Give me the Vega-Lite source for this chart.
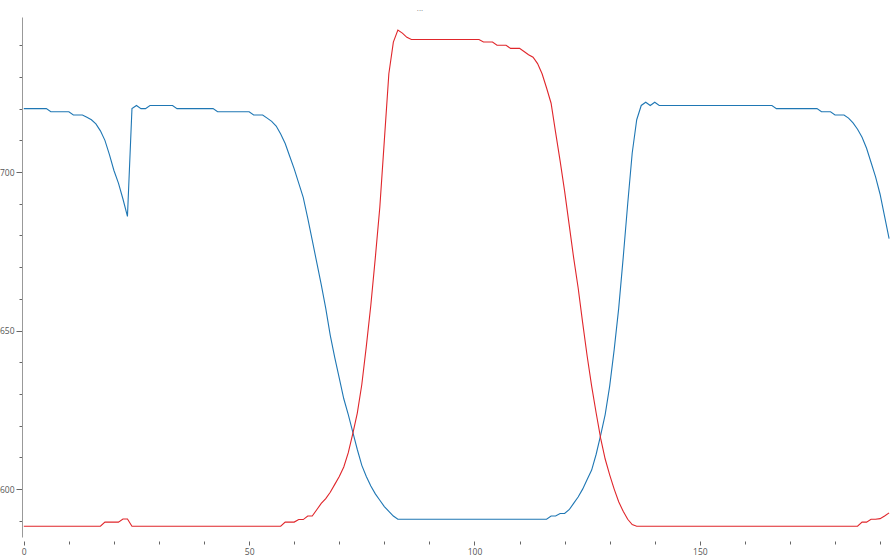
{
  "$schema": "https://vega.github.io/schema/vega-lite/v6.json",
  "autosize": "none",
  "width": 868,
  "height": 520,
  "padding": {"left": 22, "top": 17, "right": 1, "bottom": 19},
  "background": "white",
  "title": {"text": "...", "fontSize": 8, "color": "#888888", "font": "Open Sans", "fontWeight": "normal", "offset": 4, "dx": -36},
  "config": {"view": {"stroke": null}},
  "data": {"values": [
    {"t":0,"blue":720,"red":588.3},{"t":1,"blue":720,"red":588.3},{"t":2,"blue":720,"red":588.3},{"t":3,"blue":720,"red":588.3},{"t":4,"blue":720,"red":588.3},
    {"t":5,"blue":720,"red":588.3},{"t":6,"blue":719,"red":588.3},{"t":7,"blue":719,"red":588.3},{"t":8,"blue":719,"red":588.3},{"t":9,"blue":719,"red":588.3},
    {"t":10,"blue":719,"red":588.3},{"t":11,"blue":718,"red":588.3},{"t":12,"blue":718,"red":588.3},{"t":13,"blue":718,"red":588.3},{"t":14,"blue":717.3,"red":588.3},
    {"t":15,"blue":716.5,"red":588.3},{"t":16,"blue":715.2,"red":588.3},{"t":17,"blue":713,"red":588.3},{"t":18,"blue":710,"red":589.6},{"t":19,"blue":705.5,"red":589.6},
    {"t":20,"blue":700.5,"red":589.6},{"t":21,"blue":696.5,"red":589.6},{"t":22,"blue":691.5,"red":590.6},{"t":23,"blue":686,"red":590.6},{"t":24,"blue":720,"red":588.3},
    {"t":25,"blue":721,"red":588.3},{"t":26,"blue":720,"red":588.3},{"t":27,"blue":720,"red":588.3},{"t":28,"blue":721,"red":588.3},{"t":29,"blue":721,"red":588.3},
    {"t":30,"blue":721,"red":588.3},{"t":31,"blue":721,"red":588.3},{"t":32,"blue":721,"red":588.3},{"t":33,"blue":721,"red":588.3},{"t":34,"blue":720,"red":588.3},
    {"t":35,"blue":720,"red":588.3},{"t":36,"blue":720,"red":588.3},{"t":37,"blue":720,"red":588.3},{"t":38,"blue":720,"red":588.3},{"t":39,"blue":720,"red":588.3},
    {"t":40,"blue":720,"red":588.3},{"t":41,"blue":720,"red":588.3},{"t":42,"blue":720,"red":588.3},{"t":43,"blue":719,"red":588.3},{"t":44,"blue":719,"red":588.3},
    {"t":45,"blue":719,"red":588.3},{"t":46,"blue":719,"red":588.3},{"t":47,"blue":719,"red":588.3},{"t":48,"blue":719,"red":588.3},{"t":49,"blue":719,"red":588.3},
    {"t":50,"blue":719,"red":588.3},{"t":51,"blue":718,"red":588.3},{"t":52,"blue":718,"red":588.3},{"t":53,"blue":718,"red":588.3},{"t":54,"blue":717,"red":588.3},
    {"t":55,"blue":716,"red":588.3},{"t":56,"blue":714.5,"red":588.3},{"t":57,"blue":712,"red":588.3},{"t":58,"blue":709,"red":589.6},{"t":59,"blue":705,"red":589.6},
    {"t":60,"blue":701,"red":589.6},{"t":61,"blue":696.5,"red":590.4},{"t":62,"blue":692,"red":590.4},{"t":63,"blue":685.5,"red":591.5},{"t":64,"blue":678.5,"red":591.5},
    {"t":65,"blue":671.5,"red":593.5},{"t":66,"blue":664.5,"red":595.5},{"t":67,"blue":657,"red":597},{"t":68,"blue":648.5,"red":599},{"t":69,"blue":641.5,"red":601.5},
    {"t":70,"blue":635,"red":604},{"t":71,"blue":628.5,"red":607},{"t":72,"blue":623.5,"red":611.5},{"t":73,"blue":618,"red":617.5},{"t":74,"blue":612.5,"red":624},
    {"t":75,"blue":607.5,"red":633},{"t":76,"blue":604,"red":645},{"t":77,"blue":601,"red":658},{"t":78,"blue":598.5,"red":673},{"t":79,"blue":596.5,"red":689},
    {"t":80,"blue":594.5,"red":710},{"t":81,"blue":593,"red":731},{"t":82,"blue":591.5,"red":741},{"t":83,"blue":590.5,"red":744.8},{"t":84,"blue":590.5,"red":743.8},
    {"t":85,"blue":590.5,"red":742.5},{"t":86,"blue":590.5,"red":741.8},{"t":87,"blue":590.5,"red":741.8},{"t":88,"blue":590.5,"red":741.8},{"t":89,"blue":590.5,"red":741.8},
    {"t":90,"blue":590.5,"red":741.8},{"t":91,"blue":590.5,"red":741.8},{"t":92,"blue":590.5,"red":741.8},{"t":93,"blue":590.5,"red":741.8},{"t":94,"blue":590.5,"red":741.8},
    {"t":95,"blue":590.5,"red":741.8},{"t":96,"blue":590.5,"red":741.8},{"t":97,"blue":590.5,"red":741.8},{"t":98,"blue":590.5,"red":741.8},{"t":99,"blue":590.5,"red":741.8},
    {"t":100,"blue":590.5,"red":741.8},{"t":101,"blue":590.5,"red":741.8},{"t":102,"blue":590.5,"red":741},{"t":103,"blue":590.5,"red":741},{"t":104,"blue":590.5,"red":741},
    {"t":105,"blue":590.5,"red":740},{"t":106,"blue":590.5,"red":740},{"t":107,"blue":590.5,"red":740},{"t":108,"blue":590.5,"red":739},{"t":109,"blue":590.5,"red":739},
    {"t":110,"blue":590.5,"red":739},{"t":111,"blue":590.5,"red":738},{"t":112,"blue":590.5,"red":737},{"t":113,"blue":590.5,"red":736.2},{"t":114,"blue":590.5,"red":734.2},
    {"t":115,"blue":590.5,"red":731},{"t":116,"blue":590.5,"red":726.5},{"t":117,"blue":591.5,"red":721.7},{"t":118,"blue":591.5,"red":712.5},{"t":119,"blue":592.3,"red":703.5},
    {"t":120,"blue":592.3,"red":694},{"t":121,"blue":593.5,"red":683.5},{"t":122,"blue":595.5,"red":673},{"t":123,"blue":597.5,"red":663.5},{"t":124,"blue":600,"red":652.5},
    {"t":125,"blue":603,"red":642},{"t":126,"blue":606,"red":632.5},{"t":127,"blue":611,"red":624},{"t":128,"blue":617,"red":616},{"t":129,"blue":623.5,"red":609.5},
    {"t":130,"blue":632.5,"red":604.5},{"t":131,"blue":644,"red":600},{"t":132,"blue":657,"red":596},{"t":133,"blue":673,"red":593},{"t":134,"blue":690,"red":590.5},
    {"t":135,"blue":706,"red":588.8},{"t":136,"blue":716.5,"red":588.3},{"t":137,"blue":721,"red":588.3},{"t":138,"blue":722,"red":588.3},{"t":139,"blue":721,"red":588.3},
    {"t":140,"blue":722,"red":588.3},{"t":141,"blue":721,"red":588.3},{"t":142,"blue":721,"red":588.3},{"t":143,"blue":721,"red":588.3},{"t":144,"blue":721,"red":588.3},
    {"t":145,"blue":721,"red":588.3},{"t":146,"blue":721,"red":588.3},{"t":147,"blue":721,"red":588.3},{"t":148,"blue":721,"red":588.3},{"t":149,"blue":721,"red":588.3},
    {"t":150,"blue":721,"red":588.3},{"t":151,"blue":721,"red":588.3},{"t":152,"blue":721,"red":588.3},{"t":153,"blue":721,"red":588.3},{"t":154,"blue":721,"red":588.3},
    {"t":155,"blue":721,"red":588.3},{"t":156,"blue":721,"red":588.3},{"t":157,"blue":721,"red":588.3},{"t":158,"blue":721,"red":588.3},{"t":159,"blue":721,"red":588.3},
    {"t":160,"blue":721,"red":588.3},{"t":161,"blue":721,"red":588.3},{"t":162,"blue":721,"red":588.3},{"t":163,"blue":721,"red":588.3},{"t":164,"blue":721,"red":588.3},
    {"t":165,"blue":721,"red":588.3},{"t":166,"blue":721,"red":588.3},{"t":167,"blue":720,"red":588.3},{"t":168,"blue":720,"red":588.3},{"t":169,"blue":720,"red":588.3},
    {"t":170,"blue":720,"red":588.3},{"t":171,"blue":720,"red":588.3},{"t":172,"blue":720,"red":588.3},{"t":173,"blue":720,"red":588.3},{"t":174,"blue":720,"red":588.3},
    {"t":175,"blue":720,"red":588.3},{"t":176,"blue":720,"red":588.3},{"t":177,"blue":719,"red":588.3},{"t":178,"blue":719,"red":588.3},{"t":179,"blue":719,"red":588.3},
    {"t":180,"blue":718,"red":588.3},{"t":181,"blue":718,"red":588.3},{"t":182,"blue":718,"red":588.3},{"t":183,"blue":717,"red":588.3},{"t":184,"blue":715.5,"red":588.3},
    {"t":185,"blue":713.5,"red":588.3},{"t":186,"blue":711,"red":589.6},{"t":187,"blue":707.5,"red":589.6},{"t":188,"blue":703,"red":590.5},{"t":189,"blue":698.5,"red":590.5},
    {"t":190,"blue":693,"red":590.7},{"t":191,"blue":686,"red":591.5},{"t":192,"blue":679,"red":592.5}
  ]},
  "transform": [{"fold": ["blue", "red"], "as": ["series", "value"]}],
  "mark": {"type": "line", "strokeWidth": 1.1, "interpolate": "linear"},
  "encoding": {
    "x": {
      "field": "t", "type": "quantitative",
      "scale": {"domain": [-0.4, 192.2], "nice": false, "zero": false},
      "axis": {
        "title": null, "grid": false, "domain": false, "offset": 4,
        "values": [0,10,20,30,40,50,60,70,80,90,100,110,120,130,140,150,160,170,180,190],
        "labelExpr": "datum.value % 50 === 0 ? datum.label : ''",
        "tickSize": {"condition": {"test": "datum.value % 50 === 0", "value": 4}, "value": 3},
        "tickColor": "#666666", "labelColor": "#555555", "labelFontSize": 8.5, "labelFont": "Open Sans",
        "labelPadding": 2, "labelFlush": false, "labelOverlap": false
      }
    },
    "y": {
      "field": "value", "type": "quantitative",
      "scale": {"domain": [584.9, 748.9], "nice": false, "zero": false},
      "axis": {
        "title": null, "grid": false, "domain": true, "domainColor": "#999999",
        "values": [590,600,610,620,630,640,650,660,670,680,690,700,710,720,730,740],
        "labelExpr": "datum.value % 50 === 0 ? datum.label : ''",
        "tickSize": {"condition": {"test": "datum.value % 50 === 0", "value": 6}, "value": 3},
        "tickColor": "#666666", "labelColor": "#555555", "labelFontSize": 8.5, "labelFont": "Open Sans",
        "labelPadding": 2, "labelOverlap": false
      }
    },
    "color": {
      "field": "series", "type": "nominal",
      "scale": {"domain": ["blue", "red"], "range": ["#1f77b4", "#e0262b"]},
      "legend": null
    }
  }
}
